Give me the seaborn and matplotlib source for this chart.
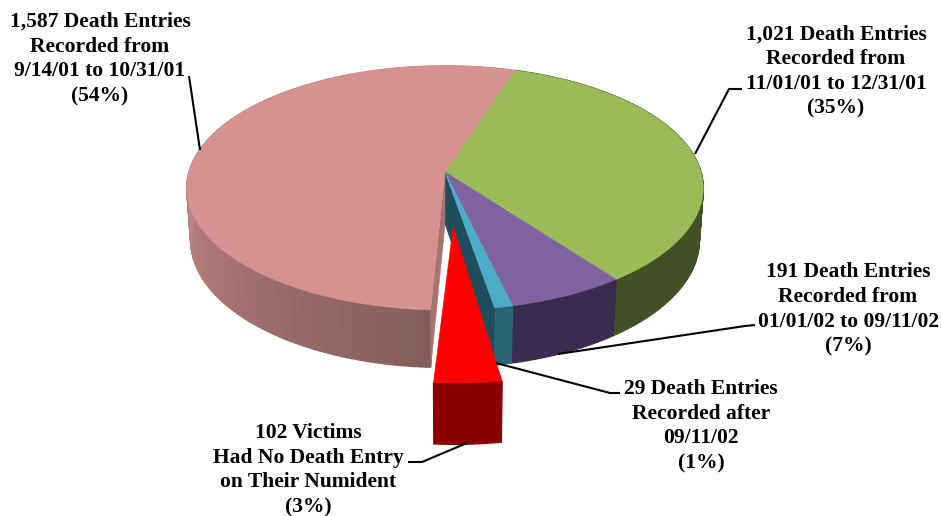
import numpy as np
import matplotlib
matplotlib.use("Agg")
import matplotlib.pyplot as plt
import seaborn as sns

# Data: slices clockwise from the pink/green boundary
categories = ["Nov-Dec 2001", "Jan-Sep 2002", "After 09/11/02", "No Death Entry", "Sep-Oct 2001"]
values = [1021, 191, 29, 102, 1587]
top_colors = ["#9BBB59", "#8064A2", "#4BACC6", "#FF0000", "#D59290"]
side_near = ["#434F24", "#3A2C50", "#2C6478", "#8A0000", "#845C5C"]
side_far = ["#434F24", "#3A2C50", "#2C6478", "#960000", "#BE8482"]
exploded = [0, 0, 0, 1, 0]
labels = [
    "1,021 Death Entries\nRecorded from\n11/01/01 to 12/31/01\n(35%)",
    "191 Death Entries\nRecorded from\n01/01/02 to 09/11/02\n(7%)",
    "29 Death Entries\nRecorded after\n09/11/02\n(1%)",
    "102 Victims\nHad No Death Entry\non Their Numident\n(3%)",
    "1,587 Death Entries\nRecorded from\n9/14/01 to 10/31/01\n(54%)",
]
label_xy = [(836, 71.5), (848, 309.5), (701, 426), (308.5, 470), (100, 59)]
leaders = [
    [(695, 154), (729, 89), (742, 89)],
    [(558, 354), (745, 326), (755, 325)],
    [(496, 363), (610, 393), (620, 393)],
    [(467, 443), (422, 462), (408, 462)],
    [(200, 150), (189, 76)],
]

START = 17.8
CX, CY, RX, RY, K, H = 445, 172, 256, 120, 0.131, 52
BOTTOM = 0.985
EXPLODE_U, EXPLODE_V, EXPLODE_TWIST = 0.03, -0.43, 1.0

sns.set_theme(style="white")
plt.rcParams["font.family"] = ["Liberation Serif", "DejaVu Serif"]


def project(angle, radius=1.0, offset=(0.0, 0.0), drop=0.0):
    a = np.radians(angle)
    r = radius * (BOTTOM if drop else 1.0)
    u = r * np.sin(a) + offset[0]
    v = r * np.cos(a) + offset[1]
    s = 1.0 / (1.0 + K * v)
    return CX + RX * u * s, CY - RY * v * s + drop * H * s


def mix(c1, c2, t):
    a, b = np.array(matplotlib.colors.to_rgb(c1)), np.array(matplotlib.colors.to_rgb(c2))
    return tuple(a + (b - a) * t)


fig = plt.figure(figsize=(9.42, 5.16), dpi=100)
ax = fig.add_axes([0, 0, 1, 1])
ax.set_xlim(0, 942)
ax.set_ylim(516, 0)
sns.despine(ax=ax, left=True, bottom=True)
ax.set_xticks([])
ax.set_yticks([])

sweep = np.array(values, dtype=float) / np.sum(values) * 360.0
edges = START + np.concatenate([[0.0], np.cumsum(sweep)])

for i, (val, a0, a1) in enumerate(zip(values, edges[:-1], edges[1:])):
    off = (EXPLODE_U, EXPLODE_V) if exploded[i] else (0.0, 0.0)
    twist = EXPLODE_TWIST if exploded[i] else 0.0
    angs = np.linspace(a0, a1, max(int(a1 - a0), 2) + 1) + twist
    z = 5 if exploded[i] else 1
    # outer wall, shaded strip by strip
    for b0, b1 in zip(angs[:-1], angs[1:]):
        t = np.clip((0.5 * (b0 + b1) - 180.0) / 90.0, 0, 1)
        col = mix(side_near[i], side_far[i], t)
        p = [project(b0, 1, off), project(b1, 1, off), project(b1, 1, off, 1), project(b0, 1, off, 1)]
        ax.fill(*zip(*p), color=col, lw=1.0, zorder=z)
    # radial cut faces beside the gap left by the exploded slice
    if i + 1 < len(values) and exploded[i + 1]:
        p = [project(a1, 0), project(a1, 1), project(a1, 1, drop=1), project(a1, 0, drop=1)]
        ax.fill(*zip(*p), color="#1F4F5F", lw=0.4, zorder=2)
    if i > 0 and exploded[i - 1]:
        p = [project(a0, 0), project(a0, 1), project(a0, 1, drop=1), project(a0, 0, drop=1)]
        ax.fill(*zip(*p), color="#A87270", lw=0.4, zorder=2)
    # top face
    poly = [project(a0 + twist, 0, off)] + [project(b, 1, off) for b in angs]
    ax.fill(*zip(*poly), color=top_colors[i], lw=0.4, zorder=z + 2)

for line in leaders:
    ax.plot(*zip(*line), color="black", lw=1.5, zorder=8, solid_capstyle="butt")

for text, (x, y) in zip(labels, label_xy):
    ax.text(x, y, text, ha="center", va="center", fontsize=15.45, fontweight="bold",
            color="black", linespacing=1.32, zorder=9)

fig.savefig("out.png", dpi=100, facecolor="white")
